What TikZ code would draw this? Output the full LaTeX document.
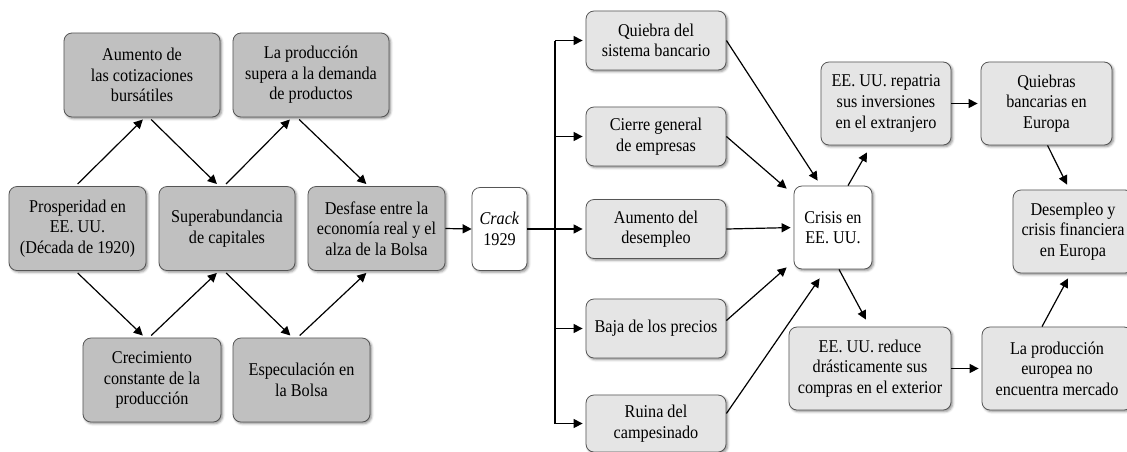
\documentclass[tikz,border=0pt]{standalone}
\usepackage{fontspec}
\setmainfont{Liberation Serif}[FakeStretch=0.9]
\usepackage{xcolor}
\definecolor{boxdark}{RGB}{192,192,192}
\definecolor{boxlight}{RGB}{229,229,229}
\definecolor{boxline}{RGB}{85,85,85}
\usetikzlibrary{shapes,arrows.meta,positioning,calc,shadows.blur}
\tikzstyle{base} = [draw=boxline, rounded corners=4pt, align=center, inner sep=1pt,
    font=\fontsize{9}{10.3}\selectfont,
    blur shadow={shadow xshift=0.8pt, shadow yshift=-0.8pt, shadow blur radius=1.2pt, shadow opacity=45}]
\tikzstyle{darkbox} = [base, fill=boxdark, minimum height=42pt]
\tikzstyle{lightbox} = [base, fill=boxlight, minimum height=41.5pt]
\tikzstyle{midbox} = [base, fill=boxlight, minimum width=70pt, minimum height=29.5pt]
\tikzstyle{whitebox} = [base, fill=white, minimum height=41.5pt]
\tikzstyle{arrow} = [line width=0.6pt, -{Triangle[length=4.5pt,width=4.5pt]}]
\tikzstyle{plain} = [line width=0.6pt]

\begin{document}
\begin{tikzpicture}[x=0.5pt, y=-0.5pt]
\useasboundingbox (0,0) rectangle (1127,451);
% causes
\node[darkbox, minimum width=78pt] (aum) at (142,75) {Aumento de\\las cotizaciones\\bursátiles};
\node[darkbox, minimum width=78pt] (lapro) at (311,75) {La producción\\supera a la demanda\\de productos};
\node[darkbox, minimum width=68.5pt] (pros) at (77.5,228.5) {Prosperidad en\\EE. UU.\\(Década de 1920)};
\node[darkbox, minimum width=68pt] (super) at (227,228.5) {Superabundancia\\de capitales};
\node[darkbox, minimum width=68.5pt] (desf) at (376.5,228.5) {Desfase entre la\\economía real y el\\alza de la Bolsa};
\node[darkbox, minimum width=69pt] (crec) at (152,380) {Crecimiento\\constante de la\\producción};
\node[darkbox, minimum width=68.5pt] (espec) at (301.5,380) {Especulación en\\la Bolsa};

\draw[arrow, shorten <=1.5pt, shorten >=1.5pt] ([xshift=-1pt]pros.north) -- ([xshift=1.5pt]aum.south);
\draw[arrow, shorten <=1.5pt, shorten >=1.5pt] ([xshift=3.5pt]aum.south) -- ([xshift=-4pt]super.north);
\draw[arrow, shorten <=1.5pt, shorten >=1.5pt] ([xshift=-1.5pt]super.north) -- ([xshift=-9.5pt]lapro.south);
\draw[arrow, shorten <=1.5pt, shorten >=1.5pt] ([xshift=-7pt]lapro.south) -- ([xshift=-4pt]desf.north);
\draw[arrow, shorten <=1.5pt, shorten >=1.5pt] ([xshift=-1pt]pros.south) -- ([xshift=-3.5pt]crec.north);
\draw[arrow, shorten <=1.5pt, shorten >=1.5pt] ([xshift=-1.5pt]crec.north) -- ([xshift=-4pt]super.north |- super.south);
\draw[arrow, shorten <=1.5pt, shorten >=1.5pt] ([xshift=-1.5pt]super.south) -- ([xshift=-4.5pt]espec.north);
\draw[arrow, shorten <=1.5pt, shorten >=1.5pt] ([xshift=-2pt]espec.north) -- ([xshift=-4pt]desf.south);

% crack
\node[whitebox, minimum width=27.5pt] (crack) at (499.5,229) {\textit{Crack}\\1929};
\draw[arrow] (desf.east) -- (crack.west);

% consequences in the US
\node[midbox] (quie) at (656,40.5) {Quiebra del\\sistema bancario};
\node[midbox] (cierre) at (656,136.5) {Cierre general\\de empresas};
\node[midbox] (aumdes) at (656,229) {Aumento del\\desempleo};
\node[midbox] (baja) at (656,328.5) {Baja de los precios};
\node[midbox, minimum height=28.5pt] (ruina) at (656,423.5) {Ruina del\\campesinado};

\coordinate (split) at (555,229);
\draw[plain] (crack.east) -- (split);
\draw[plain] (split |- quie) -- (split |- ruina);
\foreach \n in {quie,cierre,aumdes,baja,ruina}
  \draw[arrow, shorten >=1.5pt] (split |- \n) -- (\n.west);

\node[whitebox, minimum width=39pt] (crisis) at (833,227.5) {Crisis en\\EE. UU.};
\draw[arrow] (quie.east) -- ([xshift=12pt,yshift=2.5pt]crisis.north west);
\draw[arrow] (cierre.east) -- ([xshift=-3.5pt,yshift=-1.5pt]crisis.north west);
\draw[arrow, shorten >=1.5pt] (aumdes.east) -- (crisis.west);
\draw[arrow] ([yshift=4pt]baja.east) -- ([xshift=-3.5pt,yshift=1pt]crisis.south west);
\draw[arrow] ([yshift=5pt]ruina.east) -- ([xshift=13pt,yshift=-4.5pt]crisis.south west);

% effects in Europe
\node[lightbox, minimum width=65pt] (repat) at (886,103.5) {EE. UU. repatria\\sus inversiones\\en el extranjero};
\node[lightbox, minimum width=65.5pt] (quiebras) at (1046.5,103.5) {Quiebras\\bancarias en\\Europa};
\node[lightbox, minimum width=60pt] (desemp) at (1073,231.5) {Desempleo y\\crisis financiera\\en Europa};
\node[lightbox, minimum width=81pt] (reduce) at (870,368.5) {EE. UU. reduce\\drásticamente sus\\compras en el exterior};
\node[lightbox, minimum width=75pt] (lapeur) at (1057,368.5) {La producción\\europea no\\encuentra mercado};

\draw[arrow] ([xshift=7.5pt]crisis.north) -- ([xshift=-9.5pt,yshift=-3.5pt]repat.south);
\draw[arrow] ([xshift=3pt]crisis.south) -- ([xshift=-2pt,yshift=3.5pt]reduce.north);
\draw[arrow, shorten >=1.5pt] (repat.east) -- (quiebras.west);
\draw[arrow, shorten >=1.5pt] (reduce.east) -- (lapeur.west);
\draw[arrow] ([xshift=0.5pt]quiebras.south) -- ([xshift=-3pt,yshift=2.5pt]desemp.north);
\draw[arrow] ([xshift=-7.5pt]lapeur.north) -- ([xshift=-2.5pt,yshift=-2.5pt]desemp.south);
\end{tikzpicture}
\end{document}
